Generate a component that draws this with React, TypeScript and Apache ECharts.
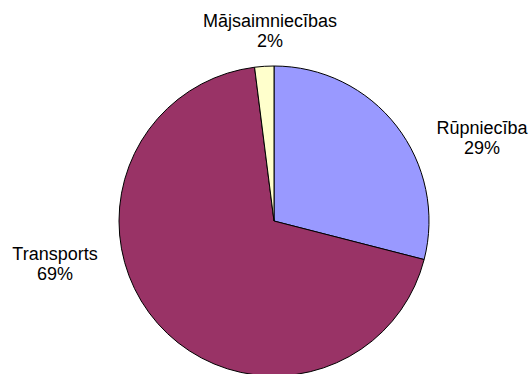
import React, { useEffect, useRef } from "react";
import * as echarts from "echarts";

const categories = ["Rūpniecība", "Transports", "Mājsaimniecības"];
const values = [29, 69, 2];
const colors = ["#9999FF", "#993366", "#FFFFCC"];
const labelPositions = [
  [482, 138],
  [55, 264],
  [270, 31],
];

export default function App() {
  const ref = useRef<HTMLDivElement>(null);
  useEffect(() => {
    if (!ref.current) return;
    const chart = echarts.init(ref.current, null, { renderer: "svg" });
    chart.setOption({
      animation: false,
      backgroundColor: "#ffffff",
      series: [
        {
          type: "pie",
          center: [274, 221],
          radius: 155,
          startAngle: 90,
          clockwise: true,
          data: categories.map((name, i) => ({
            name,
            value: values[i],
            itemStyle: { color: colors[i] },
          })),
          itemStyle: { borderColor: "#000000", borderWidth: 1 },
          label: {
            show: true,
            formatter: "{b}\n{d}%",
            fontFamily: "Liberation Sans, Arial, sans-serif",
            fontSize: 18,
            lineHeight: 20,
            color: "#000000",
            align: "center",
            overflow: "none",
            width: 200,
          },
          labelLine: { show: false },
          labelLayout: (params: any) => ({
            x: labelPositions[params.dataIndex][0],
            y: labelPositions[params.dataIndex][1],
            align: "center",
            verticalAlign: "middle",
          }),
          emphasis: { disabled: true },
        },
      ],
    });
    return () => chart.dispose();
  }, []);
  return (
    <div
      ref={ref}
      style={{ position: "fixed", left: 0, top: 0, width: 531, height: 374 }}
    />
  );
}
